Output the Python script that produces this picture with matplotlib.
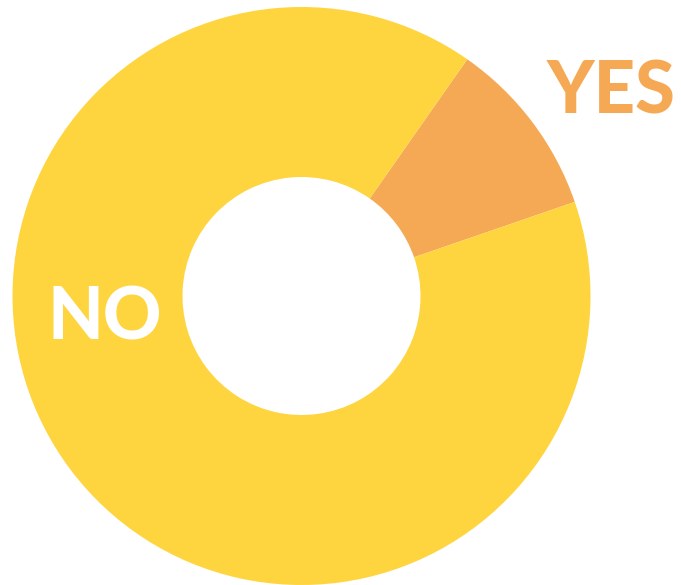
import matplotlib.pyplot as plt

# answer split
labels = ['YES', 'NO']
values = [10, 90]
colors = ['#F5A955', '#FED53F']

W, H = 681, 585
fig = plt.figure(figsize=(W / 100, H / 100), dpi=100)
fig.patch.set_facecolor('white')

# square axes holding the donut, placed in pixels
R = 289
cx, cy = 301.5, 296
ax = fig.add_axes([(cx - R) / W, (H - cy - R) / H, 2 * R / W, 2 * R / H])
ax.pie(values, colors=colors, startangle=19, counterclock=True,
       radius=1, wedgeprops=dict(width=1 - 119 / R, linewidth=0))
ax.set_xlim(-1, 1)
ax.set_ylim(-1, 1)
ax.set_aspect('equal')
ax.axis('off')

font = dict(family='Lato', weight='black', fontsize=52)
fig.text(611.5 / W, 1 - 113 / H, labels[0], color=colors[0],
         ha='center', va='baseline', **font)
fig.text(104.5 / W, 1 - 340 / H, labels[1], color='white',
         ha='center', va='baseline', **font)

fig.savefig('out.png', dpi=100, facecolor='white')
